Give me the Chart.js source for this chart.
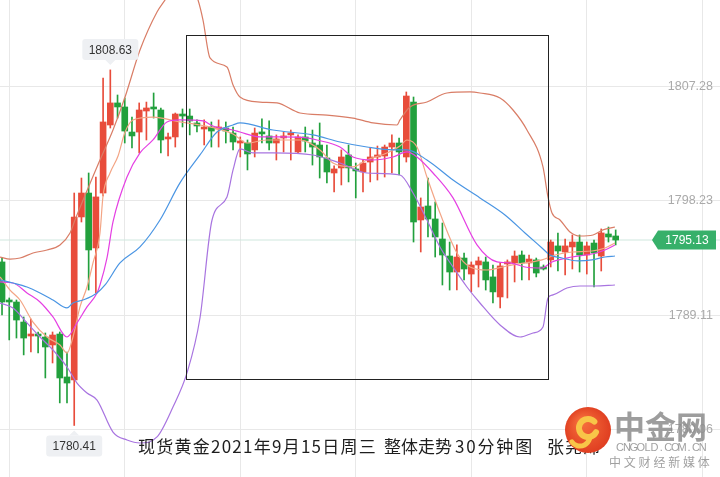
<!DOCTYPE html>
<html>
<head>
<meta charset="utf-8">
<script src="https://cdn.jsdelivr.net/npm/chart.js@4.4.0/dist/chart.umd.min.js"></script>
<style>
  html, body { margin: 0; padding: 0; background: #fff; }
  #wrap { width: 720px; height: 477px; position: relative; }
</style>
</head>
<body>
<div id="wrap"><canvas id="chart"></canvas></div>
<script>
// 30-minute candles
const opens = [1793.39,1790.37,1790.21,1788.62,1787.51,1787.67,1787.43,1786.80,1787.67,1784.26,
  1784.02,1796.96,1798.86,1794.50,1798.86,1804.26,1806.01,1805.69,1803.70,1803.70,
  1805.37,1805.69,1805.45,1803.15,1803.31,1805.13,1804.97,1804.42,1803.94,1804.10,
  1803.94,1804.02,1803.62,1802.83,1802.83,1802.28,1803.70,1803.39,1802.83,1803.23,
  1803.47,1802.12,1803.31,1802.83,1802.67,1801.64,1800.45,1800.85,1801.88,1800.77,
  1800.53,1801.32,1801.72,1801.80,1802.51,1802.83,1801.72,1806.08,1796.72,1797.83,
  1796.80,1795.21,1793.86,1792.59,1793.70,1792.43,1793.15,1793.39,1792.20,1790.61,
  1793.23,1793.31,1793.94,1793.31,1793.55,1792.99,1793.55,1794.66,1794.18,1794.58,
  1794.97,1793.94,1794.89,1793.86,1795.61,1795.45];
const highs = [1793.70,1790.53,1790.37,1789.02,1788.86,1787.83,1787.75,1787.83,1787.83,1786.24,
  1798.86,1800.05,1800.45,1800.13,1807.99,1808.63,1806.64,1806.40,1804.89,1806.01,
  1806.08,1806.80,1805.61,1803.62,1805.21,1805.53,1805.53,1804.66,1804.66,1804.50,
  1804.66,1804.50,1804.10,1803.31,1803.07,1804.02,1804.74,1804.58,1803.47,1803.70,
  1803.86,1803.47,1804.10,1803.86,1804.42,1802.67,1801.01,1802.28,1802.67,1801.24,
  1801.48,1802.43,1802.59,1802.67,1803.47,1803.23,1806.88,1806.48,1798.47,1800.05,
  1798.15,1796.48,1794.97,1794.74,1794.10,1793.39,1793.78,1793.78,1793.15,1793.31,
  1793.55,1794.26,1794.26,1793.94,1793.70,1793.15,1795.13,1795.69,1795.21,1795.53,
  1795.53,1794.97,1795.13,1796.01,1796.16,1795.93];
const lows = [1789.18,1787.20,1787.35,1786.01,1786.24,1786.16,1784.18,1785.37,1782.20,1782.20,
  1780.41,1796.56,1791.16,1790.93,1798.62,1804.02,1804.81,1802.83,1802.43,1802.04,
  1803.07,1804.81,1802.04,1801.80,1802.51,1804.10,1803.47,1803.70,1802.67,1802.51,
  1802.51,1802.83,1802.28,1801.72,1800.69,1801.72,1802.83,1802.28,1801.48,1802.12,
  1801.48,1802.04,1802.12,1801.08,1800.05,1799.66,1798.94,1799.50,1799.74,1798.47,
  1798.94,1799.74,1799.89,1800.13,1800.45,1800.29,1801.32,1794.97,1794.18,1795.37,
  1793.78,1791.56,1791.16,1791.16,1791.96,1791.01,1791.40,1791.16,1790.13,1789.74,
  1790.53,1791.80,1791.96,1791.96,1792.20,1792.75,1792.99,1792.67,1792.35,1792.83,
  1792.59,1792.43,1791.40,1792.67,1794.97,1794.74];
const closes = [1790.21,1790.21,1788.78,1787.35,1787.67,1787.51,1786.64,1787.59,1784.18,1783.78,
  1796.96,1798.86,1794.34,1798.55,1804.50,1806.01,1805.69,1803.78,1803.39,1805.45,
  1805.61,1805.53,1803.07,1803.31,1805.13,1804.97,1804.58,1804.18,1804.10,1803.78,
  1804.10,1803.78,1802.91,1802.99,1801.96,1803.62,1803.55,1802.83,1803.15,1803.39,
  1803.62,1803.31,1802.99,1802.51,1801.72,1800.53,1800.77,1801.72,1800.85,1800.61,
  1801.24,1801.72,1801.88,1802.51,1802.83,1802.12,1806.56,1796.56,1797.75,1796.80,
  1795.37,1793.94,1792.59,1793.78,1792.83,1793.15,1793.47,1791.96,1791.01,1793.07,
  1793.39,1793.86,1793.31,1793.62,1792.51,1792.83,1794.97,1794.26,1794.66,1794.97,
  1793.94,1794.66,1794.10,1795.69,1795.37,1795.13];

// indicator lines as [candle position, price] readings
const bollUpper = [[-0.28,1793.78],[1.11,1793.62],[2.49,1793.70],[4.29,1794.10],[6.23,1794.34],[8.03,1794.74],
  [9.42,1795.69],[10.11,1796.72],[13.57,1801.48],[15.37,1803.86],[17.04,1806.48],[19.11,1810.21],
  [21.47,1813.23],[22.58,1814.18],[23.96,1815.37],[25.35,1816.16],[26.45,1815.13],[27.15,1814.18],
  [27.84,1812.59],[28.81,1809.58],[31.16,1808.86],[32.0,1807.43],[32.96,1806.48],[35.73,1806.08],
  [38.09,1806.01],[41.27,1805.21],[45.01,1805.05],[48.61,1804.81],[51.39,1804.42],[54.71,1804.26],
  [55.12,1804.66],[56.51,1805.69],[58.86,1806.08],[61.63,1806.80],[64.82,1806.88],[66.20,1806.80],
  [68.98,1806.40],[70.78,1805.45],[72.71,1803.86],[74.93,1800.93],[75.62,1798.55],[76.18,1797.27],
  [77.29,1796.72],[78.67,1795.77],[80.06,1795.45],[81.86,1795.53],[83.24,1795.93],[84.90,1796.16]];
const bollLower = [[-0.28,1790.13],[1.52,1789.74],[3.46,1788.55],[5.26,1787.43],[7.06,1786.40],[9.0,1785.05],
  [10.39,1783.78],[11.77,1782.99],[13.16,1782.43],[15.37,1779.89],[17.31,1779.26],[19.11,1779.02],
  [21.47,1779.50],[23.68,1781.88],[25.62,1784.58],[27.42,1788.94],[29.09,1796.72],[31.16,1798.55],
  [32.0,1800.69],[32.96,1802.36],[34.76,1802.04],[37.53,1802.04],[43.07,1801.88],[46.81,1801.24],
  [50.55,1800.45],[55.12,1800.29],[56.93,1798.86],[58.86,1796.72],[60.66,1794.58],[62.47,1792.99],
  [64.40,1791.40],[66.20,1790.13],[68.98,1788.39],[71.75,1787.43],[73.55,1787.75],[74.93,1788.23],
  [75.62,1790.53],[76.32,1790.77],[78.25,1791.32],[80.06,1791.48],[82.13,1791.48],[84.90,1791.56]];
const bollMid = [[-0.28,1791.96],[1.52,1791.72],[3.46,1791.40],[5.26,1790.93],[7.06,1790.37],[9.0,1789.74],
  [9.83,1790.13],[11.22,1790.37],[13.16,1790.93],[14.27,1791.56],[16.34,1793.31],[19.11,1794.58],
  [21.88,1796.72],[24.65,1799.66],[27.42,1801.88],[29.78,1803.70],[32.0,1804.26],[32.96,1804.42],
  [37.53,1803.86],[43.07,1803.47],[46.81,1802.91],[50.55,1802.51],[54.16,1802.28],[56.09,1802.28],
  [58.86,1801.48],[62.47,1799.89],[66.20,1798.47],[69.67,1797.12],[72.44,1795.69],[74.79,1794.50],
  [75.90,1793.94],[77.56,1793.70],[79.78,1793.47],[81.72,1793.55],[83.52,1793.78],[84.90,1793.86]];
const ma10 = [[-0.28,1791.80],[1.52,1791.72],[3.46,1790.93],[5.26,1790.21],[7.06,1789.02],[9.0,1787.43],
  [10.39,1788.55],[11.77,1789.82],[13.16,1790.93],[13.57,1791.56],[14.54,1793.71],[15.37,1796.56],
  [17.31,1800.13],[19.11,1802.04],[20.91,1803.07],[22.85,1804.50],[24.65,1804.66],[27.84,1804.58],
  [29.22,1804.18],[32.0,1803.86],[32.96,1803.70],[35.73,1803.31],[38.50,1803.31],[42.24,1803.23],
  [43.63,1803.07],[46.81,1802.51],[48.61,1801.72],[51.39,1801.48],[54.16,1801.72],[56.09,1802.12],
  [57.48,1801.72],[59.70,1800.45],[62.47,1798.47],[65.79,1794.74],[68.56,1793.39],[70.36,1793.31],
  [72.44,1792.99],[74.79,1792.91],[76.18,1793.39],[78.95,1793.78],[81.72,1794.02],[83.52,1794.34],[84.90,1794.74]];
const ma5 = [[-0.28,1792.20],[1.11,1791.16],[2.49,1790.37],[4.29,1788.62],[6.23,1787.43],[8.03,1786.80],
  [9.0,1786.16],[9.83,1787.43],[10.80,1789.82],[11.77,1791.40],[12.60,1793.31],[13.57,1795.69],
  [13.99,1798.62],[14.96,1800.45],[16.07,1801.80],[17.04,1803.70],[18.14,1804.66],[20.91,1804.89],
  [24.65,1804.50],[27.42,1804.26],[32.0,1803.55],[33.93,1802.83],[36.70,1803.07],[41.27,1803.07],
  [44.04,1802.28],[45.84,1801.24],[48.61,1800.93],[50.55,1801.48],[53.32,1802.04],[55.12,1802.59],
  [56.09,1803.07],[57.48,1802.51],[58.86,1800.13],[60.66,1797.27],[63.02,1794.10],[64.82,1792.99],
  [67.17,1792.75],[69.94,1793.07],[72.44,1793.31],[74.79,1793.55],[76.59,1793.94],[78.95,1794.18],
  [81.72,1794.26],[83.52,1794.50],[84.90,1794.89]];

const priceTicks = [1807.28, 1798.23, 1789.11, 1780.06];
const timeGrid = [1, 17, 33, 49, 65, 81, 97];
const lastPrice = 1795.13;
const highMark = [15, 1808.63];
const lowMark = [10, 1780.41];
const boxX = [25.5, 75.6];
const boxY = [1784.1, 1811.4];
const titleParts = ["现货黄金2021年9月15日周三", "整体走势", "30分钟图", "张尧浠"];

const RED = "#e84c3b";
const GREEN = "#22a03d";

const idx = opens.map((_, i) => i);
const colors = idx.map(i => closes[i] >= opens[i] ? RED : GREEN);
const pts = arr => arr.map(p => ({ x: p[0], y: p[1] }));

function lineSet(arr, color, order) {
  return {
    type: "line", data: pts(arr), borderColor: color, borderWidth: 1.2,
    pointRadius: 0, cubicInterpolationMode: "monotone", order: order
  };
}

function callout(ctx, text, cx, tipY, below) {
  const w = 56, h = 21;
  const top = below ? tipY + 10 : tipY - 10 - h;
  ctx.fillStyle = "#eef0f3";
  ctx.beginPath();
  ctx.roundRect(cx - w / 2, top, w, h, 3);
  ctx.fill();
  ctx.beginPath();
  if (below) {
    ctx.moveTo(cx - 5, top); ctx.lineTo(cx, top - 5); ctx.lineTo(cx + 5, top);
  } else {
    ctx.moveTo(cx - 5, top + h); ctx.lineTo(cx, top + h + 5); ctx.lineTo(cx + 5, top + h);
  }
  ctx.fill();
  ctx.fillStyle = "#333";
  ctx.font = "12px 'Liberation Sans', Arial";
  ctx.textAlign = "center";
  ctx.textBaseline = "middle";
  ctx.fillText(text, cx, top + h / 2 + 1);
}

// title pieces stretched to the spans seen in the picture
function drawTitle(ctx) {
  const spans = [[138, 377], [384, 450], [455, 534], [547, 601]];
  ctx.fillStyle = "#1e1e1e";
  ctx.font = "17px 'Noto Sans CJK SC'";
  ctx.textAlign = "left";
  ctx.textBaseline = "middle";
  titleParts.forEach((t, k) => {
    ctx.letterSpacing = "0px";
    const nat = ctx.measureText(t).width;
    const sp = (spans[k][1] - spans[k][0] - nat) / t.length;
    ctx.letterSpacing = Math.max(0, sp).toFixed(2) + "px";
    ctx.fillText(t, spans[k][0], 447);
  });
  ctx.letterSpacing = "0px";
}

const overlay = {
  id: "overlay",
  beforeDraw(chart) {
    const ctx = chart.ctx;
    ctx.save();
    ctx.fillStyle = "#fff";
    ctx.fillRect(0, 0, chart.width, chart.height);
    ctx.restore();
  },
  afterDatasetsDraw(chart) {
    const { ctx, chartArea, scales: { x, y } } = chart;
    ctx.save();

    // box around the range
    const x0 = Math.round(x.getPixelForValue(boxX[0])) + 0.5;
    const x1 = Math.round(x.getPixelForValue(boxX[1])) + 0.5;
    const y0 = Math.round(y.getPixelForValue(boxY[1])) + 0.5;
    const y1 = Math.round(y.getPixelForValue(boxY[0])) + 0.5;
    ctx.strokeStyle = "#222";
    ctx.lineWidth = 1;
    ctx.strokeRect(x0, y0, x1 - x0, y1 - y0);

    // price labels inside the plot
    ctx.fillStyle = "#aaaaaa";
    ctx.font = "12.5px 'Liberation Sans', Arial";
    ctx.textAlign = "right";
    ctx.textBaseline = "middle";
    priceTicks.forEach(v => ctx.fillText(v.toFixed(2), chartArea.right - 7, y.getPixelForValue(v)));

    // high / low callouts
    callout(ctx, highMark[1].toFixed(2), x.getPixelForValue(highMark[0]), y.getPixelForValue(highMark[1]), false);
    callout(ctx, lowMark[1].toFixed(2), x.getPixelForValue(lowMark[0]), y.getPixelForValue(lowMark[1]), true);

    // last price tag
    const cy = y.getPixelForValue(lastPrice);
    const r = chartArea.right - 4, l = r - 64;
    ctx.fillStyle = "#37b06a";
    ctx.beginPath();
    ctx.moveTo(l, cy);
    ctx.lineTo(l + 6, cy - 9.5);
    ctx.lineTo(r, cy - 9.5);
    ctx.lineTo(r, cy + 9.5);
    ctx.lineTo(l + 6, cy + 9.5);
    ctx.closePath();
    ctx.fill();
    ctx.fillStyle = "#fff";
    ctx.font = "12px 'Liberation Sans', Arial";
    ctx.textAlign = "center";
    ctx.fillText(lastPrice.toFixed(2), (l + r) / 2 + 3, cy + 1);

    drawTitle(ctx);

    // watermark logo
    const g = ctx.createRadialGradient(582, 422, 4, 588, 430, 25);
    g.addColorStop(0, "#f46a3a");
    g.addColorStop(1, "#de3b1f");
    ctx.fillStyle = g;
    ctx.beginPath();
    ctx.arc(588, 430, 23, 0, Math.PI * 2);
    ctx.fill();
    ctx.strokeStyle = "#f8c548";
    ctx.lineWidth = 6;
    ctx.lineCap = "round";
    ctx.beginPath();
    ctx.arc(588, 428, 9, Math.PI * 0.15, Math.PI * 1.75);
    ctx.stroke();
    ctx.lineWidth = 5;
    ctx.beginPath();
    ctx.arc(580, 436, 10, Math.PI * 0.1, Math.PI * 0.8);
    ctx.stroke();

    ctx.fillStyle = "rgba(140,140,140,0.85)";
    ctx.font = "bold 31px 'Noto Sans CJK SC'";
    ctx.textAlign = "left";
    ctx.textBaseline = "alphabetic";
    ctx.fillText("中金网", 614, 438);
    ctx.fillStyle = "rgba(150,150,150,0.9)";
    ctx.font = "11px 'Liberation Sans', Arial";
    ctx.textAlign = "center";
    "CNGOLD.COM.CN".split("").forEach((ch, k) => ctx.fillText(ch, 620 + k * 6.9, 451));
    ctx.font = "12px 'Noto Sans CJK SC'";
    "中文财经新媒体".split("").forEach((ch, k) => ctx.fillText(ch, 615 + k * 14.8, 467));
    ctx.restore();
  }
};

new Chart(document.getElementById("chart"), {
  type: "bar",
  data: {
    datasets: [
      lineSet(bollUpper, "#d97d66", 1),
      lineSet(bollLower, "#a874e0", 1),
      lineSet(bollMid, "#4a95e3", 1),
      lineSet(ma10, "#e53fe3", 1),
      lineSet(ma5, "#f3a585", 1),
      {
        type: "bar", data: idx.map(i => ({ x: i, y: [lows[i], highs[i]] })),
        backgroundColor: colors, barThickness: 1, grouped: false, order: 3
      },
      {
        type: "bar", data: idx.map(i => ({ x: i, y: [opens[i], closes[i]] })),
        backgroundColor: colors, barThickness: 6, grouped: false, minBarLength: 2, order: 2
      },
      {
        type: "line", data: [{ x: -0.28, y: lastPrice }, { x: 99.45, y: lastPrice }],
        borderColor: "#cfe7de", borderWidth: 1, pointRadius: 0, order: 9
      }
    ]
  },
  options: {
    responsive: true,
    maintainAspectRatio: false,
    animation: false,
    layout: { padding: 0 },
    plugins: { legend: { display: false }, tooltip: { enabled: false } },
    scales: {
      x: {
        type: "linear", min: -0.28, max: 99.45, offset: false,
        grid: { color: "#e8e8e8", drawTicks: false, offset: false },
        border: { display: false },
        ticks: { display: false },
        afterBuildTicks: s => { s.ticks = timeGrid.map(v => ({ value: v })); }
      },
      y: {
        type: "linear", position: "right", min: 1776.32, max: 1814.18,
        grid: { color: "#e8e8e8", drawTicks: false },
        border: { display: false },
        ticks: { display: false },
        afterBuildTicks: s => { s.ticks = priceTicks.map(v => ({ value: v })); }
      }
    }
  },
  plugins: [overlay]
});
</script>
</body>
</html>
